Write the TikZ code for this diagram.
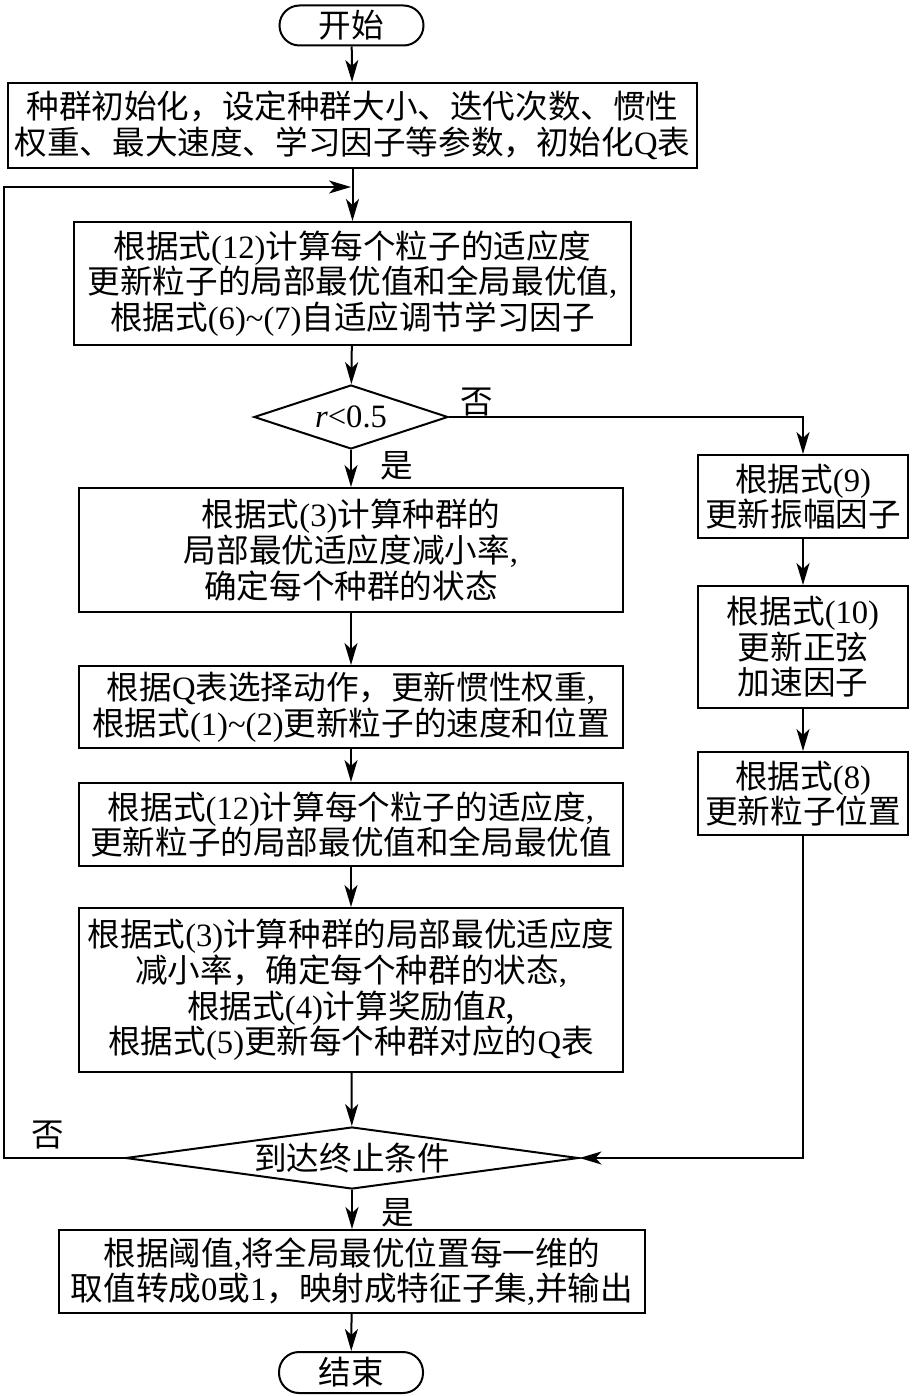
\documentclass[tikz,border=0pt]{standalone}
\usepackage{fontspec}
\setmainfont{Noto Sans CJK SC}
\newfontfamily\tm{Liberation Serif}
\usepackage{tikz}
\usetikzlibrary{arrows.meta,positioning,shapes.geometric}
\newcommand{\en}[1]{{\tm #1}}

\begin{document}
\begin{tikzpicture}[x=0.5pt,y=-0.5pt,->,>={Stealth[length=11pt,width=6.5pt,inset=3pt]},
      line width=1pt,
      every node/.style={font=\fontsize{16.3}{17.8}\selectfont},
      proc/.style={rectangle,draw,align=center,inner sep=2pt},
      term/.style={rectangle,draw,rounded corners=10pt,inner sep=1pt,minimum width=72pt,minimum height=20pt},
      decide/.style={diamond,draw,inner sep=-4pt}]
    \useasboundingbox (0,0) rectangle (913,1396);
    % main column
    \node[term] (start) at (351.5,25.5) {开始};
    \node[proc,minimum width=344.5pt,minimum height=42.5pt] (init) at (352.5,125.5)
        {种群初始化，设定种群大小、迭代次数、惯性\\权重、最大速度、学习因子等参数，初始化\en{Q}表};
    \node[proc,minimum width=278.5pt,minimum height=61.5pt] (fit1) at (352.5,283.5)
        {根据式\en{(12)}计算每个粒子的适应度\\更新粒子的局部最优值和全局最优值\en{,}\\根据式\en{(6)\textasciitilde(7)}自适应调节学习因子};
    \node[decide,aspect=3,minimum width=97pt,minimum height=32pt] (rtest) at (351,417) {\en{\textit{r}<0.5}};
    \node[proc,minimum width=272pt,minimum height=62pt] (rate1) at (351,550)
        {根据式\en{(3)}计算种群的\\局部最优适应度减小率\en{,}\\确定每个种群的状态};
    \node[proc,minimum width=272pt,minimum height=41pt] (move) at (351,707)
        {根据\en{Q}表选择动作，更新惯性权重\en{,}\\根据式\en{(1)\textasciitilde(2)}更新粒子的速度和位置};
    \node[proc,minimum width=272pt,minimum height=41.5pt] (fit2) at (351,824.5)
        {根据式\en{(12)}计算每个粒子的适应度\en{,}\\更新粒子的局部最优值和全局最优值};
    \node[proc,minimum width=272pt,minimum height=82pt] (qupd) at (351,990)
        {根据式\en{(3)}计算种群的局部最优适应度\\减小率，确定每个种群的状态\en{,}\\根据式\en{(4)}计算奖励值\en{\textit{R}},\\根据式\en{(5)}更新每个种群对应的\en{Q}表};
    \node[decide,aspect=7.3,minimum width=226.5pt,minimum height=31pt] (stop) at (352,1158) {到达终止条件};
    \node[proc,minimum width=293pt,minimum height=41.5pt] (outp) at (352,1271.5)
        {根据阈值\en{,}将全局最优位置每一维的\\取值转成\en{0}或\en{1}，映射成特征子集\en{,}并输出};
    \node[term,minimum width=72pt,minimum height=20.5pt] (end) at (351,1372.5) {结束};
    % right column
    \node[proc,minimum width=105pt,minimum height=41.5pt] (amp) at (803,496.5)
        {根据式\en{(9)}\\更新振幅因子};
    \node[proc,minimum width=105pt,minimum height=61pt] (sine) [below = 23pt of amp]
        {根据式\en{(10)}\\更新正弦\\加速因子};
    \node[proc,minimum width=105pt,minimum height=41.5pt] (pos) [below = 21pt of sine]
        {根据式\en{(8)}\\更新粒子位置};
    % labels
    \node (no1) at (477,402) {否};
    \node (yes1) at (397,466) {是};
    \node (no2) at (48,1135) {否};
    \node (yes2) at (398,1213) {是};
    \coordinate (lp) at (4,1158);
    \coordinate (mrg) at (351,187);
    % connectors
    \draw (start) -- (init);
    \draw (init) -- (fit1);
    \draw (fit1) -- (rtest);
    \draw (rtest) -- (rate1);
    \draw (rtest.east) -| (amp.north);
    \draw (rate1) -- (move);
    \draw (move) -- (fit2);
    \draw (fit2) -- (qupd);
    \draw (qupd) -- (stop);
    \draw (amp) -- (sine);
    \draw (sine) -- (pos);
    \draw (pos.south) |- (stop.east);
    \draw (stop.west) -- (lp) |- (mrg);
    \draw (stop) -- (outp);
    \draw (outp) -- (end);
\end{tikzpicture}
\end{document}
